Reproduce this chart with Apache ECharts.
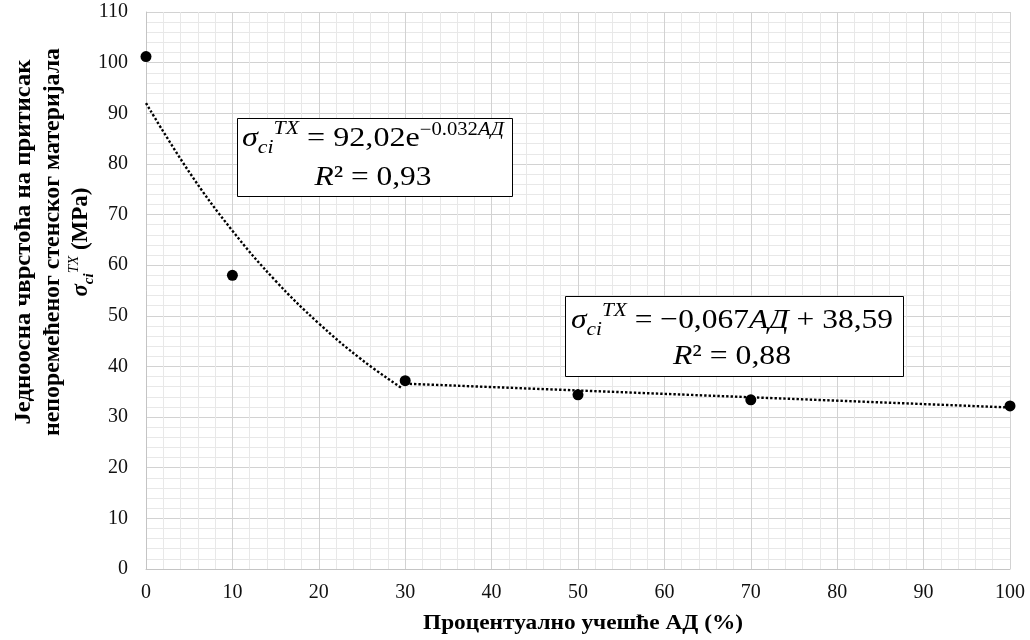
<!DOCTYPE html>
<html>
<head>
<meta charset="utf-8">
<script src="https://cdn.jsdelivr.net/npm/echarts@6/dist/echarts.min.js"></script>
<style>
  html, body { margin: 0; padding: 0; background: #fff; }
  #chart { width: 1030px; height: 640px; }
</style>
</head>
<body>
<div id="chart"></div>
<script>
const FONT = '"Liberation Serif", "Times New Roman", serif'

// measured points: share of AD (%) -> UCS (MPa)
const adShare = [0, 10, 30, 50, 70, 100]
const ucsValues = [101.2, 58.0, 37.2, 34.4, 33.4, 32.2]

// exponential trendline
const expTrendX = [0, 5, 10, 15, 20, 25, 29.7]
const expTrendY = [92.0, 78.4, 66.8, 56.9, 48.5, 41.3, 35.6]

// linear trendline
const linTrendX = [30, 100]
const linTrendY = [36.6, 31.9]

// axis ranges [min, max, step]
const xRange = [0, 100, 10]
const yRange = [0, 110, 10]

const xTitle = 'Процентуално учешће АД (%)'
const yTitle1 = 'Једноосна чврстоћа на притисак'
const yTitle2 = 'непоремећеног стенског материјала'

const measureCtx = document.createElement( 'canvas' ).getContext( '2d' )
const fontOf = t => ( t.italic ? 'italic ' : '' ) + ( t.bold ? 'bold ' : '' ) + t.size + 'px ' + FONT

// one line of mixed-style text, centred on (cx, baseline); optional target width stretches it
const textLine = ( tokens, cx, baseline, width ) => {
  const widths = tokens.map( t => {
    measureCtx.font = fontOf( t )
    return measureCtx.measureText( t.text ).width
  } )
  const total = widths.reduce( ( a, b ) => a + b, 0 )
  let x = -total / 2
  const children = tokens.map( ( t, i ) => {
    const el = {
      type : 'text',
      z : 110,
      x : x,
      y : -0.34 * t.size + ( t.dy || 0 ),
      style : {
        text : t.text,
        font : fontOf( t ),
        fill : '#000',
        textAlign : 'left',
        textVerticalAlign : 'middle'
      }
    }
    x += widths[i]
    return el
  } )
  return { type : 'group', x : cx, y : baseline, scaleX : width ? width / total : 1, children }
}

const sigmaTokens = ( size, sub, bold ) => [
  { text : 'σ', size, italic : true, bold },
  { text : 'ci', size : sub, italic : true, bold, dy : size * 0.22 },
  { text : 'TX', size : sub, italic : true, dy : -size * 0.44 }
]

const eqBox = ( x, y, w, h, line1, line2 ) => ( {
  type : 'group',
  children : [
    {
      type : 'rect',
      z : 100,
      shape : { x : x + 0.5, y : y + 0.5, width : w, height : h },
      style : { fill : '#fff', stroke : '#000', lineWidth : 1 }
    },
    line1,
    line2
  ]
} )

const chart = echarts.init( document.getElementById( 'chart' ) )

chart.setOption( {
  backgroundColor : '#fff',
  animation : false,
  grid : {
    left : 146,
    right : 20,
    top : 12,
    bottom : 71
  },
  xAxis : {
    type : 'value',
    min : xRange[0],
    max : xRange[1],
    interval : xRange[2],
    axisLine : { show : true, lineStyle : { color : '#c4c4c4', width : 1 } },
    axisTick : { show : false },
    minorTick : { show : false, splitNumber : 5 },
    axisLabel : { margin : 14, fontFamily : FONT, fontSize : 20, color : '#111' },
    splitLine : { show : true, lineStyle : { color : '#d2d2d2', width : 1 } },
    minorSplitLine : { show : true, lineStyle : { color : '#e8e8e8', width : 1 } }
  },
  yAxis : {
    type : 'value',
    min : yRange[0],
    max : yRange[1],
    interval : yRange[2],
    axisLine : { show : true, lineStyle : { color : '#c4c4c4', width : 1 } },
    axisTick : { show : false },
    minorTick : { show : false, splitNumber : 5 },
    axisLabel : { margin : 18, fontFamily : FONT, fontSize : 20, color : '#111' },
    splitLine : { show : true, lineStyle : { color : '#d2d2d2', width : 1 } },
    minorSplitLine : { show : true, lineStyle : { color : '#e8e8e8', width : 1 } }
  },
  series : [
    {
      name : 'exp trend',
      type : 'line',
      smooth : 0.4,
      showSymbol : false,
      z : 3,
      lineStyle : { color : '#000', width : 2.4, type : [2.4, 2] },
      data : expTrendX.map( ( x, i ) => [x, expTrendY[i]] )
    },
    {
      name : 'linear trend',
      type : 'line',
      showSymbol : false,
      z : 3,
      lineStyle : { color : '#000', width : 2.4, type : [2.4, 2] },
      data : linTrendX.map( ( x, i ) => [x, linTrendY[i]] )
    },
    {
      name : 'UCS',
      type : 'scatter',
      symbol : 'circle',
      symbolSize : 11,
      z : 4,
      itemStyle : { color : '#000', opacity : 1 },
      data : adShare.map( ( x, i ) => [x, ucsValues[i]] )
    }
  ],
  graphic : [
    eqBox( 237, 118, 275, 78,
      textLine( [
        ...sigmaTokens( 28, 19 ),
        { text : ' = 92,02e', size : 28 },
        { text : '−0.032', size : 18, dy : -12 },
        { text : 'АД', size : 18, italic : true, dy : -12 }
      ], 373, 148, 262 ),
      textLine( [
        { text : 'R', size : 28, italic : true },
        { text : '² = 0,93', size : 28 }
      ], 373, 187, 117 )
    ),
    eqBox( 565, 296, 338, 80,
      textLine( [
        ...sigmaTokens( 28, 19 ),
        { text : ' = −0,067', size : 28 },
        { text : 'АД', size : 28, italic : true },
        { text : ' + 38,59', size : 28 }
      ], 732, 330, 322 ),
      textLine( [
        { text : 'R', size : 28, italic : true },
        { text : '² = 0,88', size : 28 }
      ], 732, 366, 118 )
    ),
    textLine( [{ text : xTitle, size : 22, bold : true }], 583, 631, 320 ),
    {
      type : 'group',
      x : 0,
      y : 242,
      rotation : Math.PI / 2,
      children : [
        textLine( [{ text : yTitle1, size : 23, bold : true }], 0, 32, 365 ),
        textLine( [{ text : yTitle2, size : 23, bold : true }], 0, 61, 388 ),
        textLine( [
          ...sigmaTokens( 23, 15, true ),
          { text : ' (MPa)', size : 23, bold : true }
        ], 0, 89 )
      ]
    }
  ]
} )
</script>
</body>
</html>
